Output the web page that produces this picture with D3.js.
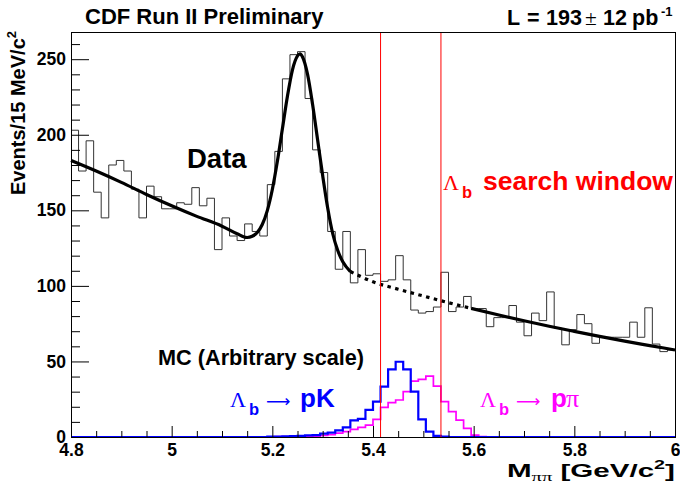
<!DOCTYPE html>
<html><head><meta charset="utf-8">
<script src="https://cdn.jsdelivr.net/npm/d3@7"></script>
<style>
html,body{margin:0;padding:0;background:#fff;}
svg{display:block;}
text{font-family:"Liberation Sans",Arial,Helvetica,sans-serif;font-weight:bold;}
</style></head>
<body>
<script>
// ---------- data ----------
const binLow = 4.8, binWidth = 0.015;
const dataCounts = [
 203,176,196,162,145,180,183,176,164,145,
 166,159,151,151,155,154,165,153,158,124,
 145,133,130,141,136,133,167,189,237,253,
 255,224,190,175,136,111,136,102,124,107,
 108,103,104,120,104,84,82,83,86,109,
 83,86,93,85,85,73,79,79,87,76,
 67,82,77,96,72,61,71,81,75,62,
 66,66,66,66,76,66,85.5,61.5,56.5,57.5];
const mcPK = [
 0,0,0,0,0,0,0,0,0,0,
 0,0,0,0,0,0,0,0,0,0,
 0,0,0,0,0,0,0.2,0.3,0.4,0.6,
 0.7,1.1,1.3,2.2,2.9,4.4,6.4,11,12,18,
 23.4,33.3,44.7,49.8,44.7,30,11.7,3.5,0.7,0.2,
 0,0,0,0,0,0,0,0,0,0,
 0,0,0,0,0,0,0,0,0,0,
 0,0,0,0,0,0,0,0,0,0];
const mcPPi = [
 0,0,0,0,0,0,0,0,0,0,
 0,0,0,0,0,0,0,0,0,0,
 0,0,0,0,0,0,0.1,0.2,0.3,0.3,
 0.4,0.5,0.6,1,1.5,2.5,3.5,5,6.4,7.9,
 11.7,19.6,22.7,24.5,30,37,38.1,40.3,33.7,23.4,
 16.8,11.2,5.7,1.3,0.3,0.1,0,0,0,0,
 0,0,0,0,0,0,0,0,0,0,
 0,0,0,0,0,0,0,0,0,0];
const fitX = [4.80,4.85,4.90,4.95,5.00,5.05,5.10,5.13,5.15,5.16,5.17,5.18,5.19,5.20,5.21,5.22,5.23,5.24,5.25,5.255,5.26,5.27,5.28,5.29,5.30,5.31,5.32,5.33,5.34,5.355,5.40,5.45,5.50,5.55,5.595,5.65,5.70,5.75,5.80,5.85,5.90,5.95,6.00];
const fitY = [183,176,168.5,160.5,153,146,139.5,134.5,132,132.8,135.3,140.6,149.8,163.8,182.4,204,225.5,243,252.2,253.5,251.5,240,220,196.5,173,151.5,134.5,123.4,115.9,109.5,102.7,97.8,93.3,88.9,85.1,80.7,76.9,73.3,69.9,66.6,63.4,60.5,57.6];
const fitExclLow = 5.355, fitExclHigh = 5.595;
const searchWindow = [5.415, 5.535];
const xMajorTicks = [4.8,5.0,5.2,5.4,5.6,5.8,6.0];
const xTickLabels = ["4.8","5","5.2","5.4","5.6","5.8","6"];
const yMajorTicks = [0,50,100,150,200,250];
const yDomain = [0,268];

// ---------- layout ----------
const W = 680, H = 486;
const L = 71, R = 675, T = 32, B = 437;
const svg = d3.select("body").append("svg").attr("width",W).attr("height",H);
const x = d3.scaleLinear().domain([4.8,6.0]).range([L,R]);
const y = d3.scaleLinear().domain(yDomain).range([B,T]);

function histPath(vals, closeToZero){
  const p = d3.path();
  const e = i => x(binLow + i*binWidth);
  if (closeToZero){ p.moveTo(e(0), y(0)); p.lineTo(e(0), y(vals[0])); }
  else p.moveTo(e(0), y(vals[0]));
  vals.forEach((v,i)=>{
    if (i>0) p.lineTo(e(i), y(v));
    p.lineTo(e(i+1), y(v));
  });
  if (closeToZero) p.lineTo(e(vals.length), y(0));
  return p.toString();
}

// data histogram
svg.append("path").attr("d", histPath(dataCounts,false))
  .attr("fill","none").attr("stroke","#333").attr("stroke-width",1);

// fit curve
const fitPts = fitX.map((v,i)=>[v,fitY[i]]);
const line = d3.line().x(d=>x(d[0])).y(d=>y(d[1])).curve(d3.curveMonotoneX);
const seg1 = fitPts.filter(d=>d[0]<=fitExclLow);
const seg2 = fitPts.filter(d=>d[0]>=fitExclLow && d[0]<=fitExclHigh);
const seg3 = fitPts.filter(d=>d[0]>=fitExclHigh);
svg.append("path").attr("d",line(seg1)).attr("fill","none").attr("stroke","#000").attr("stroke-width",3.2);
svg.append("path").attr("d",line(seg2)).attr("fill","none").attr("stroke","#000").attr("stroke-width",3.2).attr("stroke-dasharray","3.5,4.5");
svg.append("path").attr("d",line(seg3)).attr("fill","none").attr("stroke","#000").attr("stroke-width",3.2);

// MC histograms
svg.append("path").attr("d", histPath(mcPPi,true))
  .attr("fill","none").attr("stroke","#ff00ff").attr("stroke-width",1.7);
svg.append("path").attr("d", histPath(mcPK,true))
  .attr("fill","none").attr("stroke","#0000ff").attr("stroke-width",2.2);

// search window lines
svg.selectAll("line.win").data(searchWindow).enter().append("line")
  .attr("x1",d=>x(d)).attr("x2",d=>x(d)).attr("y1",T).attr("y2",B)
  .attr("stroke","#ff0000").attr("stroke-width",1);

// axes
const yAxis = d3.axisLeft(y).tickValues(yMajorTicks).tickSize(-18).tickPadding(5).tickFormat(d3.format("d"));
const yMinor = d3.axisLeft(y).tickValues(d3.range(0,261,10).filter(v=>v%50!==0)).tickSize(-9).tickFormat("");
const xAxis = d3.axisBottom(x).tickValues(xMajorTicks).tickSize(-11).tickPadding(7).tickFormat((d,i)=>xTickLabels[i]);
const xMinor = d3.axisBottom(x).tickValues(d3.range(0,25).map(i=>4.8+i*0.05).filter((v,i)=>i%4!==0)).tickSize(-6).tickFormat("");

function styleAxis(g){
  g.select(".domain").remove();
  g.selectAll("line").attr("stroke","#000");
  g.selectAll("text").attr("fill","#000").style("font-size","17.5px")
   .style("font-family","'Liberation Sans',Arial,sans-serif").style("font-weight","bold");
}
svg.append("g").attr("transform",`translate(${L},0)`).call(yAxis).call(styleAxis);
svg.append("g").attr("transform",`translate(${L},0)`).call(yMinor).call(styleAxis);
svg.append("g").attr("transform",`translate(0,${B})`).call(xAxis).call(styleAxis);
svg.append("g").attr("transform",`translate(0,${B})`).call(xMinor).call(styleAxis);

// frame
svg.append("rect").attr("x",L).attr("y",T).attr("width",R-L).attr("height",B-T)
  .attr("fill","none").attr("stroke","#000").attr("stroke-width",1).attr("shape-rendering","crispEdges");

// ---------- text ----------
const SERIF = "'Liberation Serif','Times New Roman',serif";
const ARROWF = "'DejaVu Sans','Noto Sans',sans-serif";
function rich(xp, yp, parts, opts){
  opts = opts||{};
  const t = svg.append("text").attr("x",xp).attr("y",yp)
    .attr("text-anchor",opts.anchor||"start").attr("fill",opts.color||"#000");
  if (opts.transform) t.attr("transform",opts.transform);
  let cur = 0;
  parts.forEach(p=>{
    const s = t.append("tspan").text(p.t).style("font-size",p.size+"px");
    if (p.serif) s.style("font-family",SERIF).style("font-weight","normal");
    if (p.arrow) s.style("font-family",ARROWF).style("font-weight","normal");
    const dy = (p.dy||0) - cur;
    if (dy!==0) s.attr("dy",dy);
    cur = p.dy||0;
    if (p.x!==undefined) s.attr("x",p.x);
  });
  return t;
}
// stretch a text horizontally so that it spans [x0, x1] at baseline yb
function spanText(t, x0, x1, yb){
  const w = t.node().getBBox().width;
  const sx = (x1 - x0) / w;
  t.attr("x",0).attr("y",0).attr("transform",`translate(${x0},${yb}) scale(${sx},1)`);
}

rich(85, 24, [{t:"CDF Run II Preliminary", size:22}]);
rich(507, 25, [
  {t:"L", size:21.5},
  {t:"=", size:21.5, x:527},
  {t:"193", size:21.5, x:546},
  {t:"±", size:21.5, serif:true, x:585},
  {t:"12", size:21.5, x:603},
  {t:"pb", size:21.5, x:632},
  {t:"-1", size:13, dy:-9, x:661}
]);

rich(0,0,[
  {t:"Events/15 MeV/c", size:20},
  {t:"2", size:13, dy:-9}
],{anchor:"end", transform:"translate(25,31) rotate(-90)"});

const xTitle = rich(0, 0, [
  {t:"M", size:18},
  {t:"ππ", size:12.5, serif:true, dy:4},
  {t:" [GeV/c", size:18},
  {t:"2", size:12, dy:-8},
  {t:"]", size:18}
]);
spanText(xTitle, 507, 675, 477);

rich(187, 168, [{t:"Data", size:27.5}]);

rich(443, 190, [
  {t:"Λ", size:22, serif:true},
  {t:"b", size:16.5, dy:8, x:462},
  {t:"search window", size:26.5, x:483}
], {color:"#ff0000"});

rich(158, 365, [{t:"MC (Arbitrary scale)", size:21.7}]);

rich(230, 407, [
  {t:"Λ", size:22, serif:true},
  {t:"b", size:16.5, dy:8, x:249},
  {t:"⟶", size:17, arrow:true, x:266},
  {t:"pK", size:26, x:300}
], {color:"#0000ff"});

rich(480, 407, [
  {t:"Λ", size:22, serif:true},
  {t:"b", size:16.5, dy:8, x:499},
  {t:"⟶", size:17, arrow:true, x:516},
  {t:"p", size:26, x:551},
  {t:"π", size:26, serif:true, x:566}
], {color:"#ff00ff"});
</script>
</body></html>
